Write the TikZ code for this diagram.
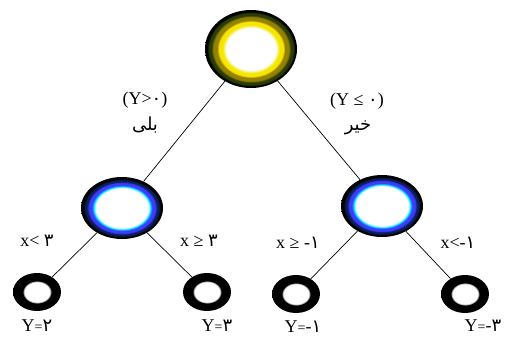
\documentclass[tikz,border=0pt]{standalone}
\usepackage{fontspec}
\setmainfont{Liberation Serif}
\newfontfamily\fa[Script=Arabic]{DejaVu Sans}
\TeXXeTstate=1
\usetikzlibrary{shapes.geometric}

\definecolor{rootyel}{RGB}{245,230,0}
\definecolor{rootolive}{RGB}{150,130,0}
\definecolor{rootdark}{RGB}{40,60,10}
\definecolor{midcyan}{RGB}{0,235,255}
\definecolor{midblue}{RGB}{60,60,255}
\definecolor{middark}{RGB}{10,30,90}
\pgfdeclareradialshading{rootshade}{\pgfpoint{0bp}{0bp}}{color(0bp)=(white); color(13.5bp)=(white); color(15.5bp)=(rootyel); color(17.5bp)=(rootyel); color(18.5bp)=(rootolive); color(20.5bp)=(rootolive); color(21.5bp)=(rootdark); color(23bp)=(rootdark); color(23.8bp)=(black); color(25bp)=(black); color(50bp)=(black)}
\pgfdeclareradialshading{midshade}{\pgfpoint{0bp}{0bp}}{color(0bp)=(white); color(16bp)=(white); color(17.3bp)=(midcyan); color(18.3bp)=(midblue); color(20.3bp)=(midblue); color(21.2bp)=(middark); color(22.6bp)=(middark); color(23.3bp)=(black); color(25bp)=(black); color(50bp)=(black)}
\pgfdeclareradialshading{leafshade}{\pgfpoint{0bp}{0bp}}{color(0bp)=(white); color(13.5bp)=(white); color(14.8bp)=(black); color(25bp)=(black); color(50bp)=(black)}

\begin{document}
\begin{tikzpicture}[x=1pt,y=-1pt,font=\fontsize{18}{20}\selectfont]
  \tikzset{
    rootnode/.style={ellipse,inner sep=0pt,minimum width=92pt,minimum height=78pt,shade,shading=rootshade},
    midnode/.style={ellipse,inner sep=0pt,minimum width=82pt,minimum height=62pt,shade,shading=midshade},
    leafnode/.style={ellipse,inner sep=0pt,minimum width=48pt,minimum height=38pt,shade,shading=leafshade},
    branch/.style={draw,line width=0.7pt},
    cond/.style={inner sep=1pt}
  }
  \newcommand\eqsign{{\fontsize{14}{15}\selectfont=}}
  \useasboundingbox (0,0) rectangle (507,338);
  % tree nodes
  \node[rootnode] (root) at (251,49) {};
  \node[midnode] (yes) at (122,208) {};
  \node[midnode] (no) at (382,206) {};
  \node[leafnode] (yesA) at (37,292) {};
  \node[leafnode] (yesB) at (207,292) {};
  \node[leafnode] (noA) at (296,294) {};
  \node[leafnode] (noB) at (465,294) {};
  % branches
  \draw[branch] (root) -- (yes);
  \draw[branch] (root) -- (no);
  \draw[branch] (yes) -- (yesA);
  \draw[branch] (yes) -- (yesB);
  \draw[branch] (no) -- (noA);
  \draw[branch] (no) -- (noB);
  % conditions
  \node[cond] (yesTest) at (145,100) {(Y>{\fa ٠})};
  \node[cond] (yesWord) at (145,125) {\fa\beginR بلی\endR};
  \node[cond] (noTest) at (357,101) {(Y ≤ {\fa ٠})};
  \node[cond] (noWord) at (358,128) {\fa\beginR خیر\endR};
  \node[cond] (yesAtest) at (37,241) {x< {\fa ٣}};
  \node[cond] (yesBtest) at (199,241) {x ≥ {\fa ٣}};
  \node[cond] (noAtest) at (298,243) {x ≥ -{\fa ١}};
  \node[cond] (noBtest) at (458,243) {x<-{\fa ١}};
  % outcomes
  \node[cond] (yesAval) at (37,326) {Y\eqsign{\fa ٢}};
  \node[cond] (yesBval) at (217,326) {Y\eqsign{\fa ٣}};
  \node[cond] (noAval) at (303,327) {Y\eqsign-{\fa ١}};
  \node[cond] (noBval) at (483,326) {Y\eqsign-{\fa ٣}};
\end{tikzpicture}
\end{document}
